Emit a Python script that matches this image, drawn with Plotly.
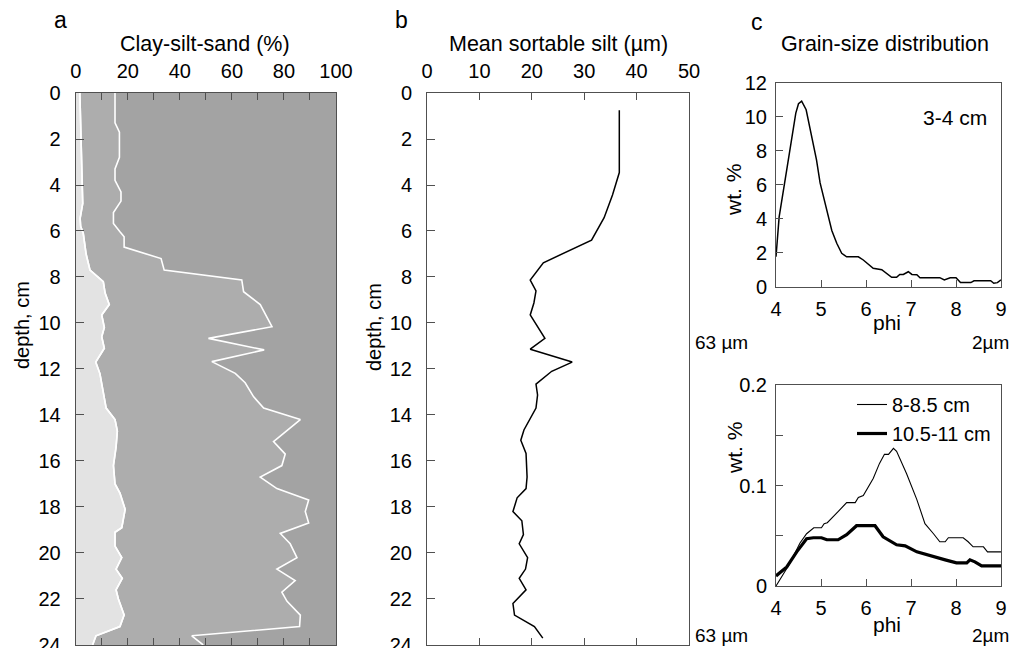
import plotly.graph_objects as go

# ---------- Panel a: clay-silt-sand (%) ----------
clay_depth = [0, 1.9, 3.5, 4.8, 5.45, 5.8, 6.1, 7.0, 7.7, 8.2, 8.7, 9.2, 9.65, 10.2, 10.6, 11.1, 11.7,
              12.2, 13.1, 13.7, 14.2, 14.7, 15.4, 16.2, 17.0, 17.4, 18.1, 18.9, 19.1, 19.7, 20.2, 20.7,
              21.1, 21.6, 22.0, 22.7, 23.2, 23.6, 24.0]
clay_pct = [1.6, 1.9, 2.4, 2.7, 1.7, 1.9, 2.9, 4.0, 5.5, 10.6, 11.3, 12.9, 10.0, 11.0, 10.0, 11.0, 7.7,
            9.3, 10.6, 11.7, 15.1, 16.0, 15.5, 14.5, 15.1, 17.0, 19.0, 17.7, 15.1, 15.1, 17.7, 15.5,
            17.9, 15.5, 16.4, 18.6, 17.0, 7.8, 6.5]

silt_depth = [0, 1.3, 1.7, 2.8, 3.3, 3.8, 4.3, 4.7, 5.2, 5.67, 6.03, 6.25, 6.7, 7.2, 7.7, 8.13, 8.64,
              9.2, 10.16, 10.67, 11.17, 11.68, 12.19, 12.6, 13.2, 13.7, 14.2, 15.16, 15.7, 16.2, 16.7,
              17.2, 17.7, 18.2, 18.7, 19.15, 19.6, 20.2, 20.7, 21.2, 21.7, 22.1, 22.7, 23.2, 23.6, 24.0]
silt_pct = [15.1, 15.1, 16.8, 16.8, 15.1, 15.1, 17.4, 17.4, 14.5, 14.5, 17.0, 18.6, 18.6, 32.8, 34.0,
            63.8, 64.5, 70.9, 75.4, 51.0, 72.4, 52.3, 61.3, 65.1, 68.3, 72.2, 86.3, 76.0, 80.5, 79.2,
            70.9, 77.3, 89.5, 88.2, 89.5, 78.6, 82.4, 85.0, 77.3, 84.3, 79.2, 81.2, 86.3, 86.0, 44.6, 49.0]

pct_ticks = [0, 10, 20, 30, 40, 50, 60, 70, 80, 90, 100]
pct_labels = ["0", "", "20", "", "40", "", "60", "", "80", "", "100"]
depth_ticks = [0, 2, 4, 6, 8, 10, 12, 14, 16, 18, 20, 22, 24]

# ---------- Panel b: mean sortable silt ----------
ss_depth = [0.75, 3.46, 4.43, 5.42, 6.4, 7.38, 8.13, 8.6, 9.13, 9.65, 10.67, 11.14, 11.7, 12.1, 12.66,
            13.13, 13.7, 14.65, 15.1, 15.67, 16.7, 17.2, 17.6, 18.2, 18.6, 19.2, 19.6, 20.2, 20.7, 21.1,
            21.6, 22.2, 22.7, 23.2, 23.7]
ss_val = [36.7, 36.7, 35.4, 33.8, 31.4, 22.2, 19.7, 20.8, 20.4, 19.7, 22.5, 19.7, 27.7, 23.8, 20.8,
          21.1, 20.8, 18.5, 17.9, 18.9, 19.1, 18.9, 17.2, 16.4, 18.1, 18.4, 17.6, 19.2, 18.8, 17.6,
          18.9, 16.4, 16.7, 20.5, 22.1]
ss_ticks = [0, 10, 20, 30, 40, 50]

# ---------- Panel c: grain-size distributions ----------
phi_a = [4.0, 4.07, 4.24, 4.35, 4.44, 4.5, 4.57, 4.67, 4.76, 4.9, 4.98, 5.09, 5.16, 5.24, 5.35, 5.46,
         5.57, 5.83, 5.94, 6.16, 6.35, 6.57, 6.68, 6.75, 6.83, 6.94, 7.02, 7.13, 7.2, 7.64, 7.74, 7.87,
         8.0, 8.1, 8.33, 8.4, 8.77, 8.84, 8.92, 9.0]
wt_a = [1.76, 4.1, 6.9, 8.8, 10.2, 10.75, 10.9, 10.4, 9.2, 7.45, 6.1, 4.9, 4.1, 3.3, 2.55, 1.96, 1.76,
        1.76, 1.57, 1.08, 1.0, 0.55, 0.55, 0.72, 0.72, 0.88, 0.72, 0.7, 0.53, 0.53, 0.4, 0.53, 0.53,
        0.24, 0.24, 0.35, 0.35, 0.2, 0.24, 0.4]

phi_b1 = [4.0, 4.31, 4.53, 4.68, 4.84, 5.01, 5.07, 5.14, 5.38, 5.57, 5.76, 5.83, 5.94, 6.16, 6.3, 6.41,
          6.5, 6.61, 6.68, 6.9, 7.13, 7.31, 7.5, 7.64, 7.76, 7.83, 8.16, 8.27, 8.38, 8.61, 8.7, 9.0]
wt_b1 = [0, 0.0226, 0.0425, 0.052, 0.058, 0.058, 0.062, 0.063, 0.074, 0.083, 0.083, 0.088, 0.090, 0.107,
         0.122, 0.131, 0.131, 0.137, 0.134, 0.112, 0.086, 0.062, 0.052, 0.044, 0.044, 0.048, 0.048,
         0.044, 0.039, 0.039, 0.034, 0.034]

phi_b2 = [4.0, 4.24, 4.46, 4.68, 4.83, 5.01, 5.13, 5.38, 5.57, 5.79, 6.2, 6.38, 6.68, 6.87, 7.13, 7.5,
          7.76, 8.01, 8.24, 8.31, 8.42, 8.57, 9.0]
wt_b2 = [0.010, 0.019, 0.034, 0.047, 0.048, 0.048, 0.046, 0.046, 0.051, 0.060, 0.060, 0.049, 0.041,
         0.040, 0.034, 0.029, 0.026, 0.023, 0.023, 0.026, 0.024, 0.020, 0.020]

phi_ticks = [4, 5, 6, 7, 8, 9]
wt_a_ticks = [0, 2, 4, 6, 8, 10, 12]
wt_b_ticks = [0, 0.05, 0.1, 0.15, 0.2]
wt_b_labels = ["0", "", "0.1", "", "0.2"]

FONT = "Liberation Sans, Arial, sans-serif"
AX = "#505050"
W, H = 1012, 648

CLAY_C = "#e3e3e3"
SILT_C = "#adadad"
SAND_C = "#a3a3a3"

fig = go.Figure()

# Panel a
fig.add_trace(go.Scatter(x=clay_pct, y=clay_depth, mode="lines", fill="tozerox", fillcolor=CLAY_C,
                         line=dict(color="white", width=1.6), xaxis="x", yaxis="y", showlegend=False))
fig.add_trace(go.Scatter(x=silt_pct, y=silt_depth, mode="lines", fill="tonextx", fillcolor=SILT_C,
                         line=dict(color="white", width=1.6), xaxis="x", yaxis="y", showlegend=False))
fig.add_trace(go.Scatter(x=clay_pct, y=clay_depth, mode="lines",
                         line=dict(color="white", width=1.6), xaxis="x", yaxis="y", showlegend=False))

# Panel b
fig.add_trace(go.Scatter(x=ss_val, y=ss_depth, mode="lines", line=dict(color="black", width=1.5),
                         xaxis="x2", yaxis="y2", showlegend=False))

# Panel c top
fig.add_trace(go.Scatter(x=phi_a, y=wt_a, mode="lines", line=dict(color="black", width=1.5),
                         xaxis="x3", yaxis="y3", showlegend=False))

# Panel c bottom
fig.add_trace(go.Scatter(x=phi_b1, y=wt_b1, mode="lines", name="8-8.5 cm",
                         line=dict(color="black", width=1.1), xaxis="x4", yaxis="y4"))
fig.add_trace(go.Scatter(x=phi_b2, y=wt_b2, mode="lines", name="10.5-11 cm",
                         line=dict(color="black", width=3.2), xaxis="x4", yaxis="y4"))


def px_x(a, b):
    return [a / W, b / W]


def px_y(top, bottom):
    return [1 - bottom / H, 1 - top / H]


common = dict(showline=True, linecolor=AX, linewidth=1, tickcolor=AX, ticks="inside",
              showgrid=False, zeroline=False, automargin=False, ticklabeloverflow="allow",
              tickfont=dict(family=FONT, size=20, color="black"))

fig.update_layout(
    template="none",
    width=W, height=H, margin=dict(l=0, r=0, t=0, b=0, autoexpand=False),
    paper_bgcolor="white", plot_bgcolor="white",
    font=dict(family=FONT, size=20, color="black"),
    xaxis=dict(domain=px_x(75.7, 336), range=[0, 100], side="top", anchor="y",
               tickvals=pct_ticks, ticktext=pct_labels, ticklen=7, mirror="ticks",
               ticklabelstandoff=6, **common),
    yaxis=dict(domain=px_y(93, 645), range=[24.001, 0], anchor="x", tickvals=depth_ticks,
               ticklen=8, mirror=True, ticklabelstandoff=10, **common),
    xaxis2=dict(domain=px_x(427, 689), range=[0, 50], side="top", anchor="y2",
                tickvals=ss_ticks, ticklen=7, mirror="ticks", ticklabelstandoff=6, **common),
    yaxis2=dict(domain=px_y(93, 645), range=[24.001, 0], anchor="x2", tickvals=depth_ticks,
                ticklen=8, mirror=True, ticklabelstandoff=10, **common),
    xaxis3=dict(domain=px_x(776, 1001), range=[4, 9], anchor="y3", tickvals=phi_ticks,
                ticklen=7, mirror=True, ticklabelstandoff=4, **common),
    yaxis3=dict(domain=px_y(82.5, 286.7), range=[0, 12], anchor="x3", tickvals=wt_a_ticks,
                ticklen=7, mirror=True, ticklabelstandoff=4, **common),
    xaxis4=dict(domain=px_x(776, 1001), range=[4, 9], anchor="y4", tickvals=phi_ticks,
                ticklen=7, mirror=True, ticklabelstandoff=4, **common),
    yaxis4=dict(domain=px_y(385, 586), range=[0, 0.2], anchor="x4", tickvals=wt_b_ticks,
                ticktext=wt_b_labels, ticklen=7, mirror=True, ticklabelstandoff=4, **common),
    legend=dict(x=852 / W, y=1 - 385 / H, xanchor="left", yanchor="top",
                bgcolor="rgba(0,0,0,0)", font=dict(family=FONT, size=20),
                traceorder="normal", itemwidth=30, tracegroupgap=0),
)

# sand background only for panel a
fig.add_shape(type="rect", xref="x", yref="y", x0=0, x1=100, y0=0, y1=24,
              fillcolor=SAND_C, line=dict(width=0), layer="below")


def ann(text, x, y, size=21, angle=0, xanchor="center"):
    fig.add_annotation(text=text, x=x / W, y=1 - y / H, xref="paper", yref="paper",
                       showarrow=False, textangle=angle, xanchor=xanchor, yanchor="middle",
                       font=dict(family=FONT, size=size, color="black"))


ann("a", 60, 20, size=23)
ann("b", 401, 20, size=23)
ann("c", 757, 22, size=23)
ann("Clay-silt-sand (%)", 205, 44, size=21.5)
ann("Mean sortable silt (µm)", 558, 44, size=21.5)
ann("Grain-size distribution", 885, 44, size=21.5)
ann("depth, cm", 22, 325, size=20, angle=-90)
ann("depth, cm", 374, 327, size=20, angle=-90)
ann("wt. %", 734, 190, angle=-90)
ann("wt. %", 734, 448, angle=-90)
ann("3-4 cm", 955, 117)
ann("phi", 887, 322)
ann("phi", 887, 624)
ann("63 µm", 721, 342, size=19)
ann("2µm", 990, 342, size=19)
ann("63 µm", 721, 635, size=19)
ann("2µm", 990, 635, size=19)

fig.write_html("out.html")
